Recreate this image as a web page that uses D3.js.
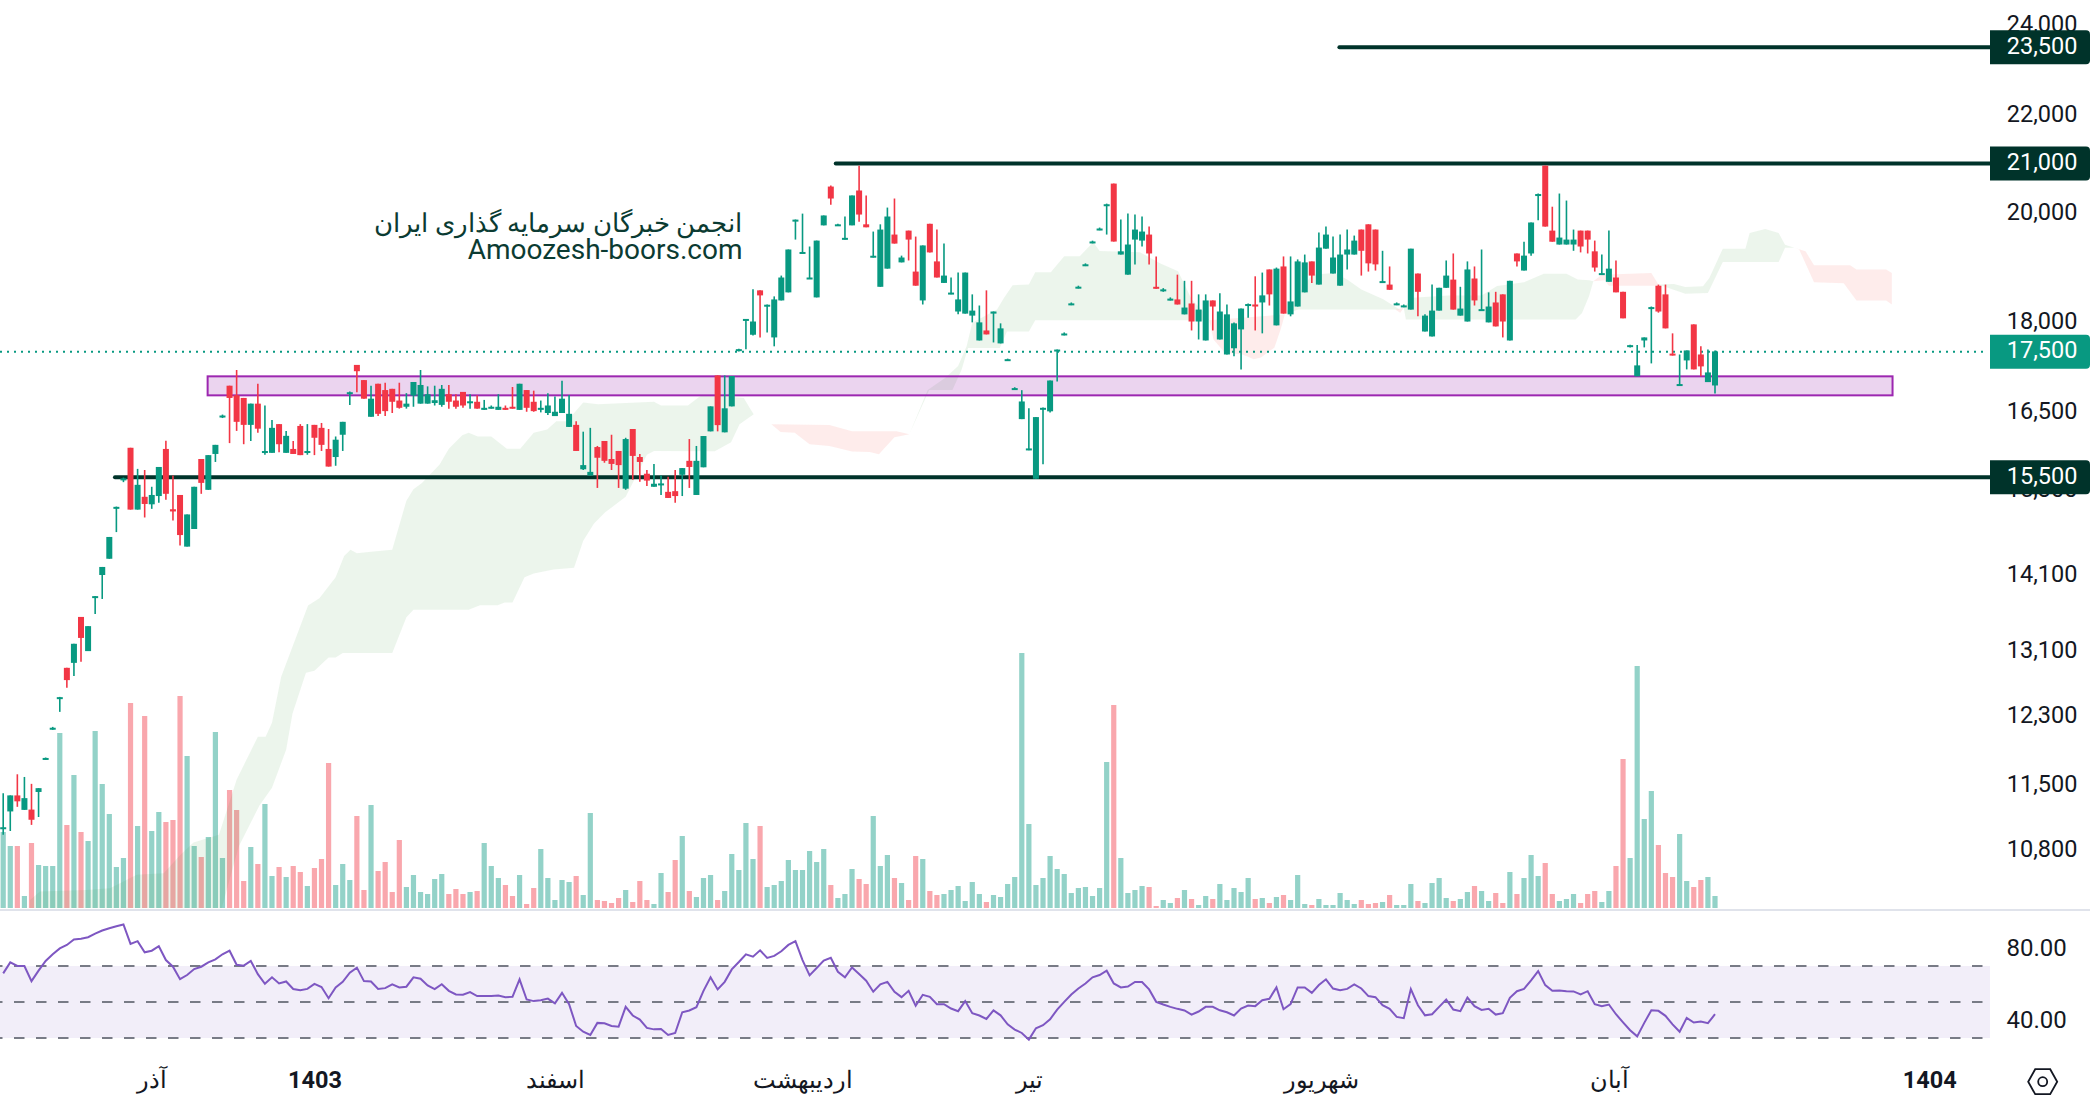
<!DOCTYPE html>
<html><head><meta charset="utf-8">
<script src="https://cdn.jsdelivr.net/npm/d3@7"></script>
<style>
html,body{margin:0;padding:0;background:#fff;overflow:hidden}
svg{display:block}
text{font-family:Roboto,"Noto Sans",sans-serif}
</style></head><body>
<svg id="c" width="2090" height="1102"></svg>
<script>
const open=[11010,11200,11375,11217,11220,11413,11780,12130,12490,12870,
12932,13520,13080,13780,14080,14303,15025,15440,15925,15000,
15187,15077,15198,15907,15005,15214,14472,14721,15753,15290,
15830,16410,16911,16755,16712,16282,16620,15855,15847,16294,
15847,15907,16265,15855,16282,16235,15907,15783,16127,16790,
17255,17003,16410,16943,16840,16860,16670,16570,16750,16620,
16620,16630,16600,16772,16670,16810,16645,16650,16520,16553,
16520,16553,16570,16520,16840,16650,16520,16470,16421,16470,
16250,16282,15597,15503,15936,16030,15753,15876,15307,16217,
15783,15530,15335,15365,15260,15270,15514,15725,15214,15627,
16180,17080,16165,16576,17500,18020,17766,18546,18275,17720,
18366,18510,19840,19232,18762,18420,19750,20506,19755,19497,
19750,20428,19770,19162,18610,18940,19575,19055,19650,18886,
18366,19780,19073,18680,18490,18170,18133,18098,17668,17840,
18133,17618,17335,16856,16373,15899,15455,16537,16497,17497,
17772,18298,18596,19004,19429,19674,20142,20565,19200,18830,
19480,19461,19575,18610,18548,18382,18384,18120,18312,17995,
17668,18366,17685,17430,17535,17858,18286,18294,18330,18925,
17928,18980,18120,18258,18510,19073,18650,19310,18850,18630,
19200,19200,19670,19770,19670,18697,18650,18298,18262,18204,
18850,17822,17737,18186,18592,18740,18098,17995,18760,18196,
17980,18330,18474,17668,19220,18905,19220,20342,20925,19650,
19387,19387,19387,19650,19650,19260,18842,18700,18778,18520,
17572,17065,17668,18232,18630,18474,17445,16922,17330,17945,
17430,16970,16915];
const high=[11400,11375,11610,11580,11503,11455,11800,12155,12513,12870,
13173,13520,13400,13798,14190,14608,15044,15473,15925,15603,
15586,15335,15632,16035,15503,15214,14930,15335,15753,15812,
15970,16445,16911,17170,16712,16620,16943,16590,16360,16294,
16187,16030,16294,16294,16282,16312,16217,16100,16330,16815,
17255,17003,16911,16943,16960,16860,16960,16790,16972,17170,
16900,16911,16923,16923,16772,16810,16772,16755,16680,16590,
16772,16590,16890,16943,16840,16830,16670,16790,16735,16992,
16760,16340,16175,16235,15953,16030,16127,15876,16080,16217,
15830,15586,15678,15503,15485,15586,15615,16060,15953,16107,
16576,17080,17080,17070,17526,18040,18564,18546,18294,18438,
18813,19294,19862,19976,19350,19461,19940,20526,19780,19920,
20330,20925,20330,19632,19770,20093,20270,19180,19650,19537,
19370,19780,19670,19405,18778,18868,18868,18474,18276,18546,
18170,17963,17360,16886,16838,16545,16405,16560,16996,17516,
17806,18330,18630,19037,19460,19708,20170,20565,19862,19976,
19958,19920,19727,19165,18586,18420,18830,18718,18718,18474,
18474,18366,18492,18294,17980,18222,18312,18800,18868,18925,
18960,19165,19165,19110,19200,19073,19613,19727,19537,19575,
19670,19556,19670,19770,19670,19270,18980,18330,18294,19310,
18850,18120,18650,18592,19090,19220,18610,19073,18980,19294,
18510,18520,18474,18718,19220,19440,19805,20368,20925,20110,
20368,20230,19670,19650,19650,19461,19200,19650,19090,18520,
17596,17590,17720,18258,18650,18650,17790,17430,17498,17945,
17568,17516,17498];
const low=[10950,10990,11250,11217,11055,11140,11775,12120,12333,12624,
12770,12947,13080,13557,13757,14303,14677,15404,15000,15000,
14886,15011,15098,15142,14842,14488,14472,14721,15231,15290,
15708,16390,15997,16187,15980,16030,16157,15818,15847,15858,
15847,15830,15812,15818,15812,15876,15638,15650,15876,16600,
16803,16700,16410,16421,16421,16470,16540,16540,16570,16620,
16620,16590,16570,16540,16540,16553,16540,16540,16520,16540,
16520,16520,16540,16520,16490,16490,16480,16440,16421,16470,
16250,15876,15586,15503,15318,15696,15586,15318,15290,15440,
15410,15347,15335,15214,15170,15098,15198,15318,15214,15627,
16180,16180,16165,16576,17482,17520,17755,17720,17806,17568,
18366,18510,19480,19220,18755,18420,19750,20150,19738,19480,
19750,19820,19713,19145,18610,18940,19405,19055,19090,18630,
18294,19240,18778,18680,18474,18120,18133,17980,17668,17772,
17634,17618,17325,16843,16373,15887,15455,15673,16480,16980,
17755,18282,18580,18987,19410,19657,19575,19443,19200,18830,
19018,19350,19018,18574,18520,18366,18294,18120,17840,17685,
17668,17840,17685,17430,17400,17180,18062,17840,17790,18276,
17928,18133,18086,18258,18510,18680,18650,19310,18850,18630,
18925,19200,18813,18886,18905,18680,18556,18282,18246,18204,
18086,17822,17737,18186,18592,18204,18098,17995,18276,18186,
17980,17910,17720,17668,18980,18905,19180,19850,19727,19440,
19387,19387,19270,19240,19220,18886,18830,18700,18510,18050,
17550,17065,17550,17280,18150,17876,17412,16915,17180,17180,
17065,16970,16785];
const close=[11030,11375,11310,11345,11110,11455,11795,12145,12510,12718,
13173,13248,13400,13795,14190,14608,15040,15460,15000,15364,
15082,15214,15632,15231,14973,14635,14930,15335,15393,15812,
15970,16430,16712,16330,16282,16620,16222,15875,16235,15980,
16110,15830,15812,15875,16080,15970,15638,16050,16330,16805,
17150,16700,16700,16457,16500,16650,16553,16620,16972,16923,
16772,16675,16860,16650,16570,16590,16658,16540,16553,16570,
16570,16520,16540,16943,16553,16500,16553,16590,16490,16700,
16457,15876,15660,15558,15772,15725,15678,15660,16060,15800,
15708,15427,15380,15385,15170,15198,15615,15632,15725,16107,
16576,16278,16545,17070,17520,18040,17995,18456,18290,18384,
18778,19294,19860,19248,18778,19461,19940,20270,19770,19513,
20330,19958,19713,19178,19670,19920,19405,19145,19480,18630,
19370,19240,18778,18813,18506,18384,18868,18186,17980,17772,
18170,17876,17351,16872,16655,15915,16405,16553,16996,17513,
17788,18314,18612,19020,19445,19690,20158,19443,19260,19387,
19670,19632,19220,18574,18564,18398,18294,18240,17995,18204,
18366,18258,18170,18120,17963,18222,18302,18258,18456,18474,
18940,18133,18348,19073,19055,18813,19330,19575,19145,19200,
19294,19461,19270,19037,19018,18713,18556,18314,18278,19310,
18520,18098,18186,18592,18813,18204,18222,18925,18366,18212,
18258,17910,17995,18718,19073,19180,19805,20358,19727,19440,
19518,19480,19480,19350,19480,18960,18858,18940,18510,18050,
17588,17247,17720,18248,18170,17876,17429,16938,17498,17180,
17230,17130,17482];
const volume=[228,186,186,36,195,129,126,126,525,249,399,228,201,531,372,282,123,150,615,246,
576,231,288,258,264,636,456,186,153,213,528,150,354,294,81,183,132,312,96,123,
93,126,108,66,120,147,435,69,132,84,276,54,309,111,138,48,204,63,99,48,
42,87,102,42,57,42,48,51,195,126,90,69,36,99,12,60,177,90,24,84,
78,96,39,285,24,21,15,30,54,18,81,24,12,105,48,144,216,51,33,90,
99,24,51,162,114,255,147,246,63,69,81,144,114,114,171,138,177,69,30,42,
117,87,72,276,126,159,90,75,24,156,147,51,39,42,54,66,21,78,42,18,
39,33,72,93,765,252,69,90,156,117,102,45,60,63,36,60,438,609,150,45,
54,66,63,6,24,15,30,54,27,9,36,27,72,24,60,48,90,27,30,15,
33,39,24,99,12,9,27,9,9,45,24,12,24,12,15,18,39,9,9,72,
21,15,75,90,30,21,27,48,66,51,21,45,15,108,42,90,159,96,135,42,
21,27,42,15,42,51,18,51,126,447,150,726,267,351,189,105,93,222,81,63,
84,93,36];
const rsi=[65.9,72,70,70,61.6,67.4,72.8,76.5,79.8,81.7,84.7,85.2,86,88,89.7,91,92.1,93.1,82.3,83.8,
77.6,78.5,81,73.3,69.6,62.7,65,68.3,69.6,72,73.7,76.5,78.5,70.7,70.2,72.8,65.5,60.1,63.7,60.3,
61.4,57.2,56.6,57.3,60.1,58.3,52.1,58.1,61.2,66.3,69.1,61.6,61.4,57.2,57.7,59.8,58.1,58.5,63.7,62.9,
59.2,57.2,59.9,56.2,54.2,54,55.5,53.3,53.3,53.4,53.6,52.7,52.9,62.6,51.4,50.5,51,51.9,49.3,55.1,
48.8,36.7,33.5,31.7,38.4,38.2,36.7,36.3,47.3,42.5,40.2,35.6,34.8,35,31.7,32.8,44.3,45.3,47.1,56.2,
63.7,57,61.2,68.1,72.2,76.5,75.2,78.7,74.5,75.6,78.2,81.7,83.8,73.3,64.8,68.9,73,74.6,66.8,63.7,
69.2,65.5,61.8,55.7,59.8,61.2,55.7,52.7,56.2,47.9,54,52.9,48.8,48.8,46.4,44.9,50.5,43.8,42.5,40.6,
45.3,42.6,37.6,34.7,32.8,29.1,35.4,37.1,40.4,45.8,50.1,54.2,57.5,60.3,63.7,65,67.4,60.3,58.1,58.6,
61.1,61.1,57,50.1,48.6,47.3,46.2,45.3,43,44.7,47.3,47.3,45.4,44.3,42.5,46.4,48,47.7,51,51.8,
58.1,46,48.8,58.1,58.1,55.1,59.4,62.6,57.5,56.6,57.3,59.8,57.5,53.3,52.7,48.2,46.2,41.7,41,57.2,
48.2,42.6,43.2,47.3,51.4,45.8,44.9,52.5,47.7,45.6,46.2,43,43.8,52.3,56,57.3,62,67.2,59.4,56.2,
56.4,56,55.9,54.2,56,48.8,47.7,48.6,43.2,38.7,34.3,30.9,38.4,45.4,45.1,42.3,37.6,33.5,41.2,38.6,
39.1,38.2,43.2];
// Ichimoku cloud outlines: [bar index, price]
const cloudGreen=[
 {top:[[3.8,10280],[5.2,10364],[11.8,10380],[15.1,10397],[18.9,10533],[22.7,10550],[25,10736],[26.9,10869],[30.5,10950],[33,11550],[36,12040],[37.1,12040],[38,12204],[39.3,12760],[43.1,13670],[44.7,13767],[47,14050],[48.2,14340],[49.1,14430],[50,14380],[52,14400],[55,14430],[57,15130],[58,15300],[59.2,15390],[61.7,15670],[63,15910],[64.9,16120],[65.8,16160],[67.1,16100],[69,16100],[71.2,15910],[73.1,15910],[75,16160],[76.9,16210],[78.2,16340],[79.7,16340],[82,16640],[84.1,16610],[92,16650],[93,16590],[96.8,16590],[98.8,16765],[104.7,16710],[105.5,16560],[106.1,16450]],
  bot:[[3.8,10100],[30.5,10100],[33.3,10825],[36.2,11263],[38,11460],[40,11890],[40.9,12315],[42.8,12810],[44,12835],[46,13000],[47,13000],[48,13055],[55,13055],[57,13515],[58,13615],[65.8,13615],[67.4,13675],[69.9,13675],[70.9,13710],[72,13710],[73.7,14050],[75,14100],[77.8,14154],[80.7,14180],[82,14555],[83.5,14795],[85.1,14960],[88,15187],[89.8,15558],[91,15818],[92,15876],[100.6,15870],[102.9,16010],[104.1,16290],[106.1,16450]]},
 {top:[[128.1,16135],[130.7,16840],[133.2,17040],[135,17235],[136.2,17570],[137,17975],[140.5,18205],[141.5,18415],[142.7,18640],[145,18650],[145.9,18875],[148.1,18875],[150,19170],[152.2,19170],[154.1,19430],[155,19265],[160.7,19245],[163.6,19035],[166.1,18890],[168,18385],[170,18120],[170.5,18015]],
  bot:[[128.1,16135],[130.9,16840],[134.2,16840],[135.5,17180],[136.4,17540],[140.9,17540],[141.9,17820],[145,17820],[145.9,18015],[170.5,18015]]},
 {top:[[181.2,18120],[185,18830],[188.2,18862],[190,18740],[192,18560],[195.1,18385],[197.4,18205]],
  bot:[[181.2,18120],[183.1,18205],[197.4,18205]]},
 {top:[[198,18235],[199.2,18415],[204.3,18456],[209,18456],[211.2,18625],[215,18690],[217.8,18845],[221,18845],[222.6,18740],[224.2,18730],[224.8,18710]],
  bot:[[198,18235],[198.3,18030],[222.3,18030],[223.2,18145],[224.2,18445],[224.8,18710]]},
 {top:[[234,18650],[236.2,18660],[237.8,18605],[240.3,18620],[241.2,18770],[243.1,19310],[246.3,19310],[246.9,19605],[249.1,19680],[251,19605],[251.9,19385],[253.2,19325]],
  bot:[[234,18650],[237.8,18485],[241,18500],[243.1,19060],[251,19060],[251.9,19325],[253.2,19325]]}
];
const cloudRed=[
 {top:[[106.1,16465],[108.6,16290],[116.8,16280],[120,16180],[126.3,16180],[128.1,16135]],
  bot:[[106.1,16465],[108.6,16290],[109.9,16170],[111.9,16160],[114,15978],[116.8,15953],[120,15866],[122.5,15861],[123.8,15825],[126,16090],[128.1,16135]]},
 {top:[[170.5,18015],[181.2,18120]],
  bot:[[170.5,18015],[171.1,17685],[172.7,17460],[175.2,17430],[176.8,17350],[177.8,17380],[179.7,17545],[180.6,17860],[181.2,18120]]},
 {top:[[196.8,18205],[198,18235]],bot:[[196.8,18205],[197.5,18150],[198,18235]]},
 {top:[[224.8,18710],[226,18830],[233,18862],[234,18650]],
  bot:[[224.8,18710],[226.4,18730],[227,18630],[233.4,18630],[234,18650]]},
 {top:[[253.2,19325],[254.8,19260],[256,19000],[261.1,19000],[262,18925],[266.2,18925],[267,18862]],
  bot:[[253.2,19325],[253.9,19295],[256,18690],[260.2,18675],[262,18365],[266.2,18365],[267,18295]]}
];
const zone={from:28.9,to:267.1,top:17065,bottom:16754};
const levels=[{price:23500,from:188.9},{price:21000,from:117.7},{price:15500,from:15.8}];
const lastPrice=17500;
const priceTicks=[24000,22000,20000,18000,16500,15300,14100,13100,12300,11500,10800];
const rsiTicks=[80,40];
const rsiBands=[70,50,30];
const timePos=[21,44,78,113,145,186.3,227,272.3];
const timeLabels=["آذر","1403","اسفند","اردیبهشت","تیر","شهریور","آبان","1404"];
const yearLabels=["1403","1404"];
const watermark=["انجمن خبرگان سرمایه گذاری ایران","Amoozesh-boors.com"];

const GREEN="#089981",RED="#F23645",DARK="#00332A",PURPLE="#9C27B0";
const svg=d3.select("#c");
const x=d3.scaleLinear().domain([0,242]).range([3.2,1715]);
const y=d3.scaleLog().domain([10800,24000]).range([850.5,25.5]);
// the series values above were read about 0.15% low against the axis
const K=1.00145;
const ys=p=>y(p*K);
const yVol=d3.scaleLinear().domain([0,804]).range([908,640]);
const yRsi=d3.scaleLinear().domain([30,70]).range([1038,966]);
const n=open.length, idx=d3.range(n);
const up=i=>close[i]>=open[i];

svg.append("defs").append("clipPath").attr("id","pane").append("rect").attr("x",0).attr("y",0).attr("width",1990).attr("height",908);

// volume
svg.append("g").selectAll("rect").data(idx).join("rect")
 .attr("x",i=>x(i)-2.6).attr("width",5.2)
 .attr("y",i=>yVol(volume[i])).attr("height",i=>yVol(0)-yVol(volume[i]))
 .attr("fill",i=>up(i)?GREEN:RED).attr("fill-opacity",.44);

// cloud
const ln=d3.line().x(d=>x(d[0])).y(d=>ys(d[1]));
const gc=svg.append("g").attr("clip-path","url(#pane)");
function cloud(list,col){
 gc.selectAll(null).data(list).join("path")
  .attr("d",s=>ln(s.top.concat(s.bot.slice().reverse()))+"Z")
  .attr("fill",col).attr("fill-opacity",.1);
}
cloud(cloudGreen,"#43A047");
cloud(cloudRed,"#F44336");

// zone
svg.append("rect").attr("x",x(zone.from)).attr("width",x(zone.to)-x(zone.from))
 .attr("y",ys(zone.top)).attr("height",ys(zone.bottom)-ys(zone.top))
 .attr("fill",PURPLE).attr("fill-opacity",.2).attr("stroke",PURPLE).attr("stroke-width",2);

// levels
svg.append("g").selectAll("line").data(levels).join("line")
 .attr("x1",d=>x(d.from)).attr("x2",1990).attr("y1",d=>y(d.price)).attr("y2",d=>y(d.price))
 .attr("stroke",DARK).attr("stroke-width",4).attr("stroke-linecap","round");

// last price dotted
svg.append("line").attr("x1",0).attr("x2",1987).attr("y1",y(lastPrice)).attr("y2",y(lastPrice))
 .attr("stroke",GREEN).attr("stroke-width",2).attr("stroke-dasharray","2 5");

// candles
const gk=svg.append("g");
gk.selectAll("line").data(idx).join("line")
 .attr("x1",i=>x(i)).attr("x2",i=>x(i)).attr("y1",i=>ys(high[i])).attr("y2",i=>ys(low[i]))
 .attr("stroke",i=>up(i)?GREEN:RED).attr("stroke-width",1.6);
gk.selectAll("rect").data(idx).join("rect")
 .attr("x",i=>x(i)-3).attr("width",6)
 .attr("y",i=>Math.min(ys(open[i]),ys(close[i])))
 .attr("height",i=>Math.max(2,Math.abs(ys(open[i])-ys(close[i]))))
 .attr("fill",i=>up(i)?GREEN:RED);

// watermark
svg.append("g").selectAll("text").data(watermark).join("text")
 .attr("x",742.5).attr("y",(d,i)=>i?259:232)
 .attr("text-anchor",(d,i)=>i?"end":"start")
 .attr("direction",(d,i)=>i?"ltr":"rtl")
 .attr("font-size",(d,i)=>i?28:26.3).attr("fill","#0B3B32").text(d=>d);

// price axis
const axR=d3.axisRight(y).tickValues(priceTicks).tickFormat(d3.format(",")).tickSize(0).tickPadding(0);
const gy=svg.append("g").attr("transform","translate(2077.5,-1.5)").call(axR);
gy.select(".domain").remove();
gy.selectAll("text").attr("text-anchor","end").attr("font-size",23.5).attr("fill","#131722").attr("font-family","Roboto");

// price labels
function tag(p,col){
 const g=svg.append("g").attr("transform",`translate(1990,${y(p)})`);
 g.append("path").attr("d","M0,-17H96a4,4 0 0 1 4,4V13a4,4 0 0 1 -4,4H0Z").attr("fill",col);
 g.append("text").attr("x",87.5).attr("dy",".28em").attr("text-anchor","end").attr("font-size",23.5).attr("fill","#fff").text(d3.format(",")(p));
}
levels.forEach(l=>tag(l.price,DARK));
tag(lastPrice,GREEN);

// separator
svg.append("line").attr("x1",0).attr("x2",2090).attr("y1",910).attr("y2",910).attr("stroke","#E0E3EB").attr("stroke-width",2);

// RSI
svg.append("rect").attr("x",0).attr("width",1990).attr("y",yRsi(70)).attr("height",yRsi(30)-yRsi(70)).attr("fill","#7E57C2").attr("fill-opacity",.1);
svg.append("g").selectAll("line").data(rsiBands).join("line")
 .attr("x1",0).attr("x2",1983).attr("y1",d=>yRsi(d)).attr("y2",d=>yRsi(d))
 .attr("stroke","#787B86").attr("stroke-width",2).attr("stroke-dasharray","10.5 11.5").attr("stroke-dashoffset",8);
svg.append("path").datum(rsi).attr("fill","none").attr("stroke","#7E57C2").attr("stroke-width",2)
 .attr("d",d3.line().x((d,i)=>x(i)).y(d=>yRsi(d)));
const axRsi=d3.axisRight(yRsi).tickValues(rsiTicks).tickFormat(d3.format(".2f")).tickSize(0).tickPadding(0);
const gr=svg.append("g").attr("transform","translate(2066.7,0)").call(axRsi);
gr.select(".domain").remove();
gr.selectAll("text").attr("text-anchor","end").attr("font-size",24).attr("fill","#131722").attr("font-family","Roboto");

// time axis
const axT=d3.axisBottom(x).tickValues(timePos).tickFormat((d,i)=>timeLabels[i]).tickSize(0).tickPadding(0);
const gt=svg.append("g").attr("transform","translate(0,1071)").call(axT);
gt.select(".domain").remove();
gt.selectAll("text").attr("font-size",23.5).attr("fill","#131722")
 .attr("font-weight",(d,i)=>yearLabels.includes(timeLabels[i])?700:400)
 .attr("font-family",'"Noto Sans",Roboto,sans-serif');

// logo icon
const ic=svg.append("g").attr("transform","translate(2042.7,1081.7)").attr("fill","none").attr("stroke","#131722").attr("stroke-width",1.8);
ic.append("path").attr("d","M-14.5,0L-7.5,-12.5H7.5L14.5,0L7.5,12.5H-7.5Z");
ic.append("circle").attr("r",4.5);
</script>
</body></html>
